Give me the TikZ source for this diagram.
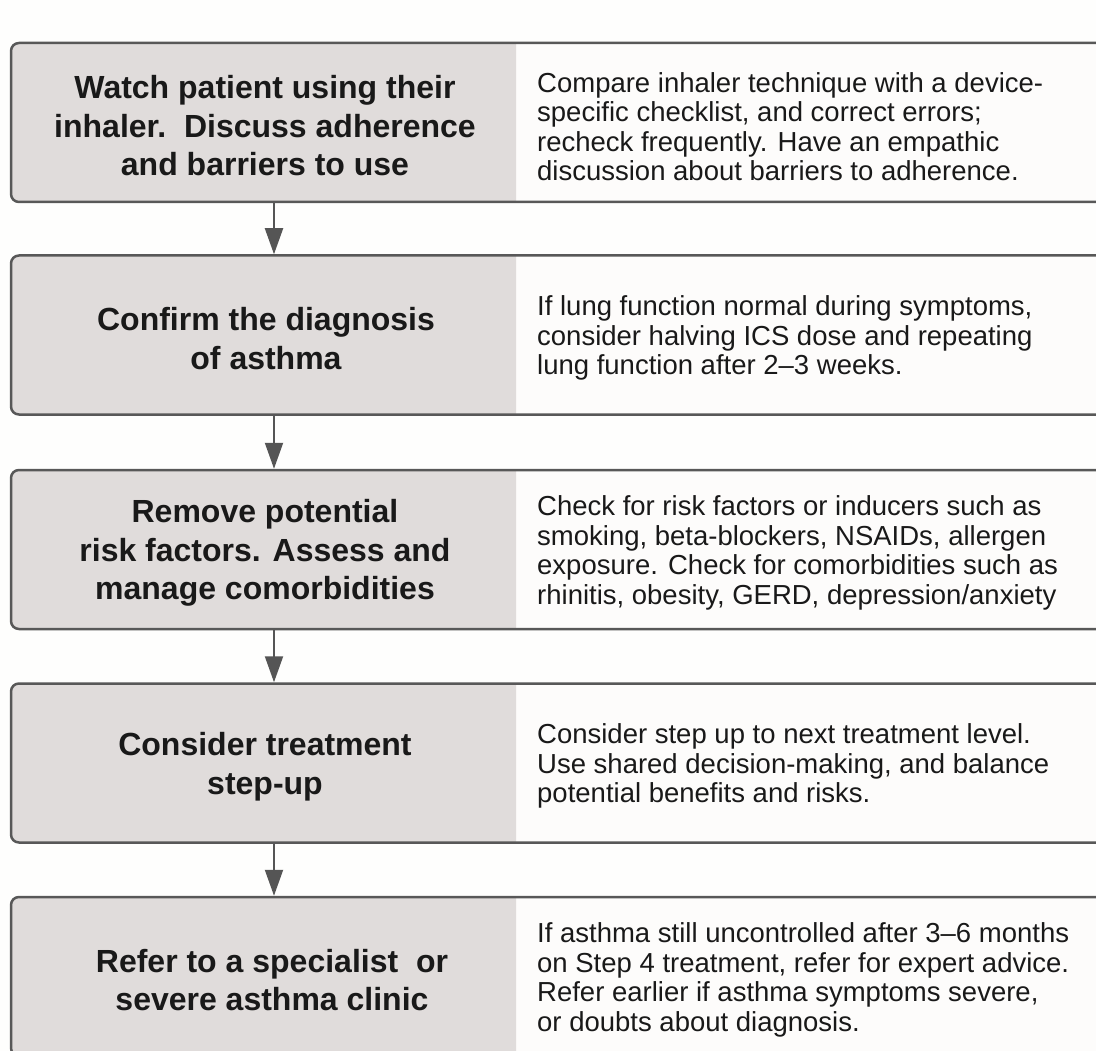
\documentclass[tikz,border=0pt]{standalone}
\usepackage{fontspec}
\setmainfont{Liberation Sans}
\usetikzlibrary{arrows.meta}
\definecolor{leftgray}{RGB}{224,220,219}
\definecolor{rightfill}{RGB}{253,252,251}
\definecolor{bgcol}{RGB}{254,254,253}
\definecolor{bordercol}{RGB}{88,88,88}
\definecolor{arrowcol}{RGB}{85,85,85}
\definecolor{txt}{RGB}{25,25,25}
\begin{document}
\begin{tikzpicture}[x=1pt,y=-1pt,
  stepbox/.style={draw=bordercol, line width=2.5pt, rounded corners=8pt, fill=rightfill,
    minimum width=1109pt, minimum height=159pt, inner sep=0pt,
    path picture={\fill[leftgray] ([xshift=-10pt,yshift=-10pt]path picture bounding box.south west) rectangle ([xshift=505pt,yshift=10pt]path picture bounding box.north west);}},
  lefttext/.style={font=\fontsize{32}{38.5}\selectfont\bfseries, align=center, text=txt, inner sep=0pt},
  righttext/.style={font=\fontsize{27.5}{29.5}\selectfont, align=left, anchor=west, text=txt, inner sep=0pt},
  arr/.style={draw=arrowcol, line width=2pt, -{Triangle[width=18pt,length=26pt,fill=arrowcol]}}]
\useasboundingbox (0,0) rectangle (1096,1051);
\clip (0,0) rectangle (1096,1051);
\fill[bgcol] (0,0) rectangle (1096,1051);
\coordinate (ax) at (274,0);

\node[stepbox] (b1) at (565.5,122.5) {};
\node[stepbox] (b2) at (565.5,335) {};
\node[stepbox] (b3) at (565.5,549.5) {};
\node[stepbox] (b4) at (565.5,763) {};
\node[stepbox] (b5) at (565.5,976.5) {};

\node[lefttext] (l1) at (265,126) {Watch patient using their\\inhaler.\ \ Discuss adherence\\and barriers to use};
\node[lefttext] (l2) at (266,338.5) {Confirm the diagnosis\\of asthma};
\node[lefttext] (l3) at (265,553) {Remove potential\\risk factors. Assess and\\manage comorbidities};
\node[lefttext] (l4) at (265,766.5) {Consider treatment\\step-up};
\node[lefttext] (l5) at (272,980) {Refer to a specialist\ \ or\\severe asthma clinic};

\node[righttext] (r1) at (537,126.5) {Compare inhaler technique with a device-\\specific checklist, and correct errors;\\recheck frequently. Have an empathic\\discussion about barriers to adherence.};
\node[righttext] (r2) at (537,338) {If lung function normal during symptoms,\\consider halving ICS dose and repeating\\lung function after 2--3 weeks.};
\node[righttext] (r3) at (537,553) {Check for risk factors or inducers such as\\smoking, beta-blockers, NSAIDs, allergen\\exposure. Check for comorbidities such as\\rhinitis, obesity, GERD, depression/anxiety};
\node[righttext] (r4) at (537,766) {Consider step up to next treatment level.\\Use shared decision-making, and balance\\potential benefits and risks.};
\node[righttext] (r5) at (537,980) {If asthma still uncontrolled after 3--6 months\\on Step 4 treatment, refer for expert advice.\\Refer earlier if asthma symptoms severe,\\or doubts about diagnosis.};

\draw[arr] (b1.south -| ax) -- (b2.north -| ax);
\draw[arr] (b2.south -| ax) -- (b3.north -| ax);
\draw[arr] (b3.south -| ax) -- (b4.north -| ax);
\draw[arr] (b4.south -| ax) -- (b5.north -| ax);
\end{tikzpicture}
\end{document}
